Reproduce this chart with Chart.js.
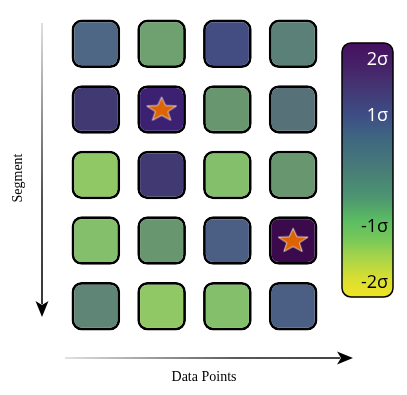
<!DOCTYPE html>
<html>
<head>
<meta charset="utf-8">
<script src="https://cdn.jsdelivr.net/npm/chart.js@4.4.1/dist/chart.umd.min.js"></script>
<style>
  html, body { margin: 0; padding: 0; background: #fff; }
  #wrap { width: 407px; height: 395px; }
</style>
</head>
<body>
<div id="wrap"><canvas id="grid"></canvas></div>
<script>
// columns (data points) and segments (rows, top to bottom)
const columns = ["P1", "P2", "P3", "P4"];
const segments = ["S1", "S2", "S3", "S4", "S5"];

// sigma value of every cell, one array per segment
const seg1 = [0.7, -0.5, 1.2, 0.2];
const seg2 = [1.5, 1.9, -0.3, 0.4];
const seg3 = [-1.2, 1.5, -0.9, -0.3];
const seg4 = [-0.9, -0.3, 0.9, 2.2];
const seg5 = [0.0, -1.2, -0.9, 0.9];
const sigmaRows = [seg1, seg2, seg3, seg4, seg5];

// flagged cells as [segment index, column index]
const starCells = [[1, 1], [3, 3]];

// colorbar ticks
const cbTicks = [2, 1, -1, -2];
const cbLabels = ["2σ", "1σ", "-1σ", "-2σ"];
const cbMax = 2.3;
const cbMin = -2.25;

// muted palette used for the cells, keyed by sigma
const cellStops = [
  [2.2, "#3a0a4c"], [1.9, "#3c2173"], [1.5, "#413a72"], [1.2, "#434d82"],
  [0.9, "#4b5f85"], [0.7, "#4e6784"], [0.4, "#577178"], [0.2, "#5b8078"],
  [0.0, "#5e8576"], [-0.3, "#67966f"], [-0.5, "#6fa070"], [-0.9, "#84c06c"],
  [-1.2, "#90c866"]
];
// colorbar gradient, top to bottom
const barStops = [
  [0, "#45105e"], [0.07, "#461d66"], [0.15, "#45306f"], [0.29, "#3d4f86"],
  [0.38, "#3f6880"], [0.49, "#477a78"], [0.61, "#4d9670"], [0.7, "#5bbd62"],
  [0.775, "#78c858"], [0.85, "#aad548"], [0.93, "#dadf30"], [1, "#f0e425"]
];

function hexToRgb(h) {
  const n = parseInt(h.slice(1), 16);
  return [(n >> 16) & 255, (n >> 8) & 255, n & 255];
}

function colorFor(v) {
  if (v >= cellStops[0][0]) return cellStops[0][1];
  for (let i = 1; i < cellStops.length; i++) {
    const [v1, c1] = cellStops[i];
    const [v0, c0] = cellStops[i - 1];
    if (v >= v1) {
      const t = (v0 - v) / (v0 - v1);
      const a = hexToRgb(c0), b = hexToRgb(c1);
      const m = a.map((x, k) => Math.round(x + (b[k] - x) * t));
      return `rgb(${m[0]},${m[1]},${m[2]})`;
    }
  }
  return cellStops[cellStops.length - 1][1];
}

function makeStar() {
  const c = document.createElement("canvas");
  c.width = 36;
  c.height = 30;
  const g = c.getContext("2d");
  const R = 12.8, r = R * 0.42, sx = 1.22;
  g.beginPath();
  for (let i = 0; i < 10; i++) {
    const rad = i % 2 === 0 ? R : r;
    const a = -Math.PI / 2 + i * Math.PI / 5;
    g.lineTo(18 + sx * rad * Math.cos(a), 15.5 + rad * Math.sin(a));
  }
  g.closePath();
  g.fillStyle = "#dd6400";
  g.fill();
  g.strokeStyle = "rgba(255,255,255,0.75)";
  g.lineWidth = 1;
  g.stroke();
  return c;
}

const half = 0.37;
const rowDatasets = sigmaRows.map((vals, r) => ({
  type: "bar",
  label: segments[r],
  data: vals.map(() => [r - half, r + half]),
  backgroundColor: vals.map(colorFor),
  borderColor: "#000",
  borderWidth: 2.8,
  borderRadius: 10,
  borderSkipped: false,
  grouped: false,
  barPercentage: 0.74,
  categoryPercentage: 1,
  order: 1
}));

const starDataset = {
  type: "scatter",
  label: "flagged",
  data: starCells.map(([r, c]) => ({ x: columns[c], y: r })),
  pointStyle: makeStar(),
  order: -1
};

function arrow(ctx, x0, y0, x1, y1) {
  const len = Math.hypot(x1 - x0, y1 - y0);
  const ux = (x1 - x0) / len, uy = (y1 - y0) / len;
  const px = -uy, py = ux;
  const headL = 16, headW = 6.5, notch = 4;
  const grad = ctx.createLinearGradient(x0, y0, x1, y1);
  grad.addColorStop(0, "#d8d8d8");
  grad.addColorStop(0.6, "#222");
  grad.addColorStop(1, "#000");
  ctx.strokeStyle = grad;
  ctx.lineWidth = 1.6;
  ctx.beginPath();
  ctx.moveTo(x0, y0);
  ctx.lineTo(x1 - ux * headL * 0.8, y1 - uy * headL * 0.8);
  ctx.stroke();
  ctx.fillStyle = "#000";
  ctx.beginPath();
  ctx.moveTo(x1, y1);
  ctx.lineTo(x1 - ux * headL + px * headW, y1 - uy * headL + py * headW);
  ctx.lineTo(x1 - ux * (headL - notch), y1 - uy * (headL - notch));
  ctx.lineTo(x1 - ux * headL - px * headW, y1 - uy * headL - py * headW);
  ctx.closePath();
  ctx.fill();
}

const decor = {
  id: "decor",
  afterDraw(chart) {
    const ctx = chart.ctx;
    ctx.save();

    // axis arrows and titles
    arrow(ctx, 42, 23, 42, 317);
    arrow(ctx, 65, 358, 353, 358);
    ctx.fillStyle = "#000";
    ctx.font = '14px "Liberation Serif", "Times New Roman", serif';
    ctx.textAlign = "center";
    ctx.textBaseline = "middle";
    ctx.fillText("Data Points", 204, 377);
    ctx.save();
    ctx.translate(18, 178);
    ctx.rotate(-Math.PI / 2);
    ctx.fillText("Segment", 0, 0);
    ctx.restore();

    // colorbar
    const L = 342, T = 43, W = 51, H = 254;
    const grad = ctx.createLinearGradient(0, T, 0, T + H);
    barStops.forEach(([t, c]) => grad.addColorStop(t, c));
    ctx.beginPath();
    ctx.roundRect(L, T, W, H, 9);
    ctx.fillStyle = grad;
    ctx.fill();
    ctx.lineWidth = 1.5;
    ctx.strokeStyle = "#000";
    ctx.stroke();

    ctx.font = '18px "Open Sans", sans-serif';
    ctx.textAlign = "right";
    cbTicks.forEach((s, i) => {
      const y = T + (cbMax - s) / (cbMax - cbMin) * H;
      ctx.fillStyle = s > 0 ? "#fff" : "#000";
      ctx.fillText(cbLabels[i], L + W - 5, y);
    });
    ctx.restore();
  }
};

new Chart(document.getElementById("grid"), {
  data: {
    labels: columns,
    datasets: [starDataset, ...rowDatasets]
  },
  options: {
    responsive: true,
    maintainAspectRatio: false,
    animation: false,
    layout: { padding: { left: 63, right: 81, top: 11, bottom: 56 } },
    scales: {
      x: { type: "category", display: false, offset: true },
      y: { type: "linear", display: false, reverse: true, min: -0.5, max: 4.5 }
    },
    plugins: {
      legend: { display: false },
      tooltip: { enabled: false }
    }
  },
  plugins: [decor]
});
</script>
</body>
</html>
